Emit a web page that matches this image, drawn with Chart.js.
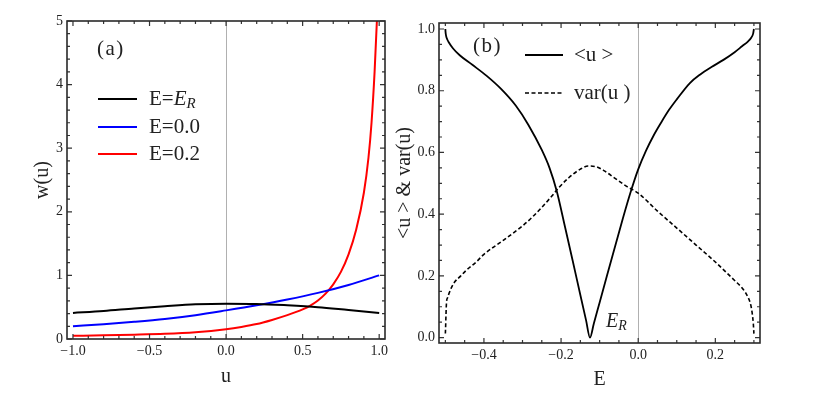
<!DOCTYPE html>
<html><head><meta charset="utf-8">
<script src="https://cdn.jsdelivr.net/npm/chart.js@4.4.1/dist/chart.umd.min.js"></script>
<style>
body{margin:0;background:#fff;}
#wrap{position:relative;width:817px;height:403px;overflow:hidden;background:#fff}
canvas{position:absolute;top:0}
</style></head><body>
<div id="wrap"><canvas id="ca" width="400" height="403" style="left:0"></canvas><canvas id="cb" width="425" height="403" style="left:392px"></canvas></div>
<script>
// ---------- Panel (a) data ----------
const uGrid = [-1, -0.8, -0.6, -0.4, -0.2, 0, 0.2, 0.4, 0.6, 0.8, 1];
const wER   = [0.41, 0.44, 0.48, 0.515, 0.545, 0.556, 0.552, 0.53, 0.50, 0.455, 0.41];
const wE00  = [0.20, 0.232, 0.27, 0.315, 0.375, 0.45, 0.53, 0.62, 0.725, 0.85, 1.0];
const uRed  = [-1, -0.8, -0.6, -0.4, -0.2, 0, 0.1, 0.2, 0.3, 0.4, 0.5, 0.55, 0.6, 0.65, 0.7, 0.75, 0.8, 0.85, 0.9, 0.93, 0.95, 0.97, 0.985, 1.0];
const wE02  = [0.05, 0.058, 0.068, 0.082, 0.108, 0.155, 0.19, 0.235, 0.30, 0.375, 0.465, 0.525, 0.605, 0.713, 0.86, 1.055, 1.33, 1.72, 2.3, 2.85, 3.4, 4.2, 5.0, 5.9];
const seriesLabelsA = ['E=E_R', 'E=0.0', 'E=0.2'];
const xMajorA = [-1, -0.5, 0, 0.5, 1];
const xMinorA = [-0.9,-0.8,-0.7,-0.6,-0.4,-0.3,-0.2,-0.1,0.1,0.2,0.3,0.4,0.6,0.7,0.8,0.9];
const yMajorA = [0, 1, 2, 3, 4, 5];
const yMinorA = [0.2,0.4,0.6,0.8,1.2,1.4,1.6,1.8,2.2,2.4,2.6,2.8,3.2,3.4,3.6,3.8,4.2,4.4,4.6,4.8];

// ---------- Panel (b) data ----------
const eU = [-0.5,-0.4995,-0.498,-0.495,-0.4913,-0.48,-0.4628,-0.43,-0.3928,-0.355,-0.3176,-0.285,-0.25,-0.23,-0.2113,-0.19,-0.17,-0.15,-0.135,-0.125,
            -0.115,-0.1,-0.08,-0.06,-0.04,-0.02,0,0.02,0.04,0.06,0.08,0.1,0.134,0.16,0.19,0.221,0.25,0.27,0.285,0.293,0.298,0.3];
const uMean = [1.0,0.99,0.977,0.966,0.957,0.937,0.915,0.884,0.848,0.805,0.752,0.69,0.608,0.55,0.475,0.36,0.25,0.138,0.055,0.0,
               0.046,0.114,0.205,0.295,0.385,0.47,0.545,0.605,0.655,0.698,0.738,0.772,0.825,0.852,0.877,0.90,0.925,0.945,0.96,0.972,0.985,1.0];
const eV = [-0.5,-0.4992,-0.4985,-0.497,-0.494,-0.49,-0.483,-0.476,-0.46,-0.446,-0.42,-0.4,-0.35,-0.3,-0.275,-0.25,-0.225,-0.205,-0.18,-0.15,-0.13,-0.11,-0.09,-0.06,-0.03,0,0.05,0.1,0.15,0.2,0.25,0.27,0.285,0.292,0.296,0.2985,0.3];
const varU = [0.013,0.04,0.07,0.115,0.13,0.145,0.165,0.18,0.2,0.218,0.245,0.27,0.315,0.362,0.39,0.422,0.457,0.487,0.518,0.546,0.556,0.554,0.542,0.516,0.49,0.468,0.41,0.355,0.30,0.245,0.185,0.16,0.13,0.105,0.075,0.045,0.013];
const seriesLabelsB = ['<u >', 'var(u )'];
const E_R = -0.125;
const xMajorB = [-0.4, -0.2, 0, 0.2];
const xMinorB = [-0.5,-0.45,-0.35,-0.3,-0.25,-0.15,-0.1,-0.05,0.05,0.1,0.15,0.25,0.3];
const yMajorB = [0, 0.2, 0.4, 0.6, 0.8, 1.0];
const yMinorB = [0.05,0.1,0.15,0.25,0.3,0.35,0.45,0.5,0.55,0.65,0.7,0.75,0.85,0.9,0.95];

const FAM = 'Liberation Serif';
const TXT = '#222';
const fmt1 = v => (v < 0 ? '\u2212' : '') + Math.abs(v).toFixed(1);
const pts = (xs, ys) => xs.map((x, i) => ({x, y: ys[i]}));

function drawRich(ctx, x, y, label, size) {
  ctx.textBaseline = 'middle';
  ctx.textAlign = 'left';
  const i = label.indexOf('_');
  if (i < 0) {
    ctx.font = size + 'px "' + FAM + '"';
    ctx.fillText(label, x, y);
    return;
  }
  const pre = label.slice(0, i - 1), base = label[i - 1], sub = label.slice(i + 1);
  ctx.font = size + 'px "' + FAM + '"';
  ctx.fillText(pre, x, y); x += ctx.measureText(pre).width;
  ctx.font = 'italic ' + size + 'px "' + FAM + '"';
  ctx.fillText(base, x, y); x += ctx.measureText(base).width;
  ctx.font = 'italic ' + Math.round(size * 0.7) + 'px "' + FAM + '"';
  ctx.fillText(sub, x, y + size * 0.22);
}

function framePlugin(cfg) {
  return {
    id: 'frame_' + cfg.name,
    beforeDatasetsDraw(chart) {
      const {ctx, chartArea: a, scales: {x}} = chart;
      const px = Math.round(x.getPixelForValue(0)) + 0.5;
      ctx.save();
      ctx.strokeStyle = '#b0b0b0'; ctx.lineWidth = 1;
      ctx.beginPath(); ctx.moveTo(px, a.top); ctx.lineTo(px, a.bottom); ctx.stroke();
      ctx.restore();
    },
    afterDatasetsDraw(chart) {
      const {ctx, chartArea: a, scales: {x, y}} = chart;
      ctx.save();
      ctx.strokeStyle = '#333'; ctx.lineWidth = 1.2;
      const tick = (vals, len) => {
        ctx.beginPath();
        vals.forEach(v => {
          const p = x.getPixelForValue(v);
          ctx.moveTo(p, a.bottom); ctx.lineTo(p, a.bottom - len);
          ctx.moveTo(p, a.top); ctx.lineTo(p, a.top + len);
        });
        ctx.stroke();
      };
      const tickY = (vals, len) => {
        ctx.beginPath();
        vals.forEach(v => {
          const p = y.getPixelForValue(v);
          ctx.moveTo(a.left, p); ctx.lineTo(a.left + len, p);
          ctx.moveTo(a.right, p); ctx.lineTo(a.right - len, p);
        });
        ctx.stroke();
      };
      tick(cfg.xMajor, 5); tick(cfg.xMinor, 3);
      tickY(cfg.yMajor, 5); tickY(cfg.yMinor, 3);
      ctx.lineWidth = 1.6; ctx.strokeStyle = '#2a2a2a';
      ctx.strokeRect(a.left, a.top, a.right - a.left, a.bottom - a.top);
      ctx.fillStyle = TXT;
      ctx.font = '21px "' + FAM + '"';
      ctx.textBaseline = 'middle'; ctx.textAlign = 'left';
      ctx.letterSpacing = '1.5px';
      ctx.fillText(cfg.tag, cfg.tagX, cfg.tagY);
      ctx.letterSpacing = '0px';
      chart.data.datasets.forEach((ds, i) => {
        const ly = cfg.legY[i];
        ctx.strokeStyle = ds.borderColor; ctx.lineWidth = ds.borderWidth;
        ctx.setLineDash(ds.borderDash || []);
        ctx.beginPath(); ctx.moveTo(cfg.legX0, ly); ctx.lineTo(cfg.legX1, ly); ctx.stroke();
        ctx.setLineDash([]);
        ctx.fillStyle = TXT;
        drawRich(ctx, cfg.legTX, ly, ds.label, 21);
      });
      if (cfg.extra) cfg.extra(chart, ctx);
      ctx.restore();
    }
  };
}

function axis(min, max, major, fmt, isX, size, title, tpad) {
  return {
    type: 'linear', min, max,
    afterBuildTicks: s => { s.ticks = major.map(v => ({value: v})); },
    ticks: {callback: fmt, padding: 4, font: {family: FAM, size: 14}, color: TXT, maxRotation: 0, autoSkip: false},
    grid: {display: false, drawTicks: false},
    border: {display: false},
    title: {display: true, text: title, font: {family: FAM, size: 20}, color: TXT, padding: tpad},
    afterFit: s => { if (isX) s.height = size; else s.width = size; }
  };
}

// ---------- Chart (a) ----------
new Chart(document.getElementById('ca'), {
  type: 'line',
  data: {datasets: [
    {label: seriesLabelsA[0], data: pts(uGrid, wER), borderColor: '#000000', borderWidth: 2, pointRadius: 0, cubicInterpolationMode: 'monotone', fill: false},
    {label: seriesLabelsA[1], data: pts(uGrid, wE00), borderColor: '#0000ff', borderWidth: 2, pointRadius: 0, cubicInterpolationMode: 'monotone', fill: false},
    {label: seriesLabelsA[2], data: pts(uRed, wE02), borderColor: '#ff0000', borderWidth: 2, pointRadius: 0, cubicInterpolationMode: 'monotone', fill: false}
  ]},
  options: {
    responsive: false, animation: false, devicePixelRatio: 1,
    layout: {padding: {left: 0, right: 15, top: 21, bottom: 0}},
    plugins: {legend: {display: false}, tooltip: {enabled: false}},
    scales: {
      x: axis(-1.039, 1.038, xMajorA, fmt1, true, 64, 'u', {top: 0, bottom: 14}),
      y: axis(0, 5, yMajorA, v => String(v), false, 67, 'w(u)', {top: 31, bottom: 0})
    }
  },
  plugins: [framePlugin({name: 'a', xMajor: xMajorA, xMinor: xMinorA, yMajor: yMajorA, yMinor: yMinorA,
    tag: '(a)', tagX: 97, tagY: 49, legX0: 98, legX1: 137, legTX: 149, legY: [99, 127, 154]})]
});

// ---------- Chart (b) ----------
new Chart(document.getElementById('cb'), {
  type: 'line',
  data: {datasets: [
    {label: seriesLabelsB[0], data: pts(eU, uMean), borderColor: '#000000', borderWidth: 1.8, pointRadius: 0, cubicInterpolationMode: 'monotone', fill: false},
    {label: seriesLabelsB[1], data: pts(eV, varU), borderColor: '#000000', borderWidth: 1.6, borderDash: [4, 2.5], pointRadius: 0, cubicInterpolationMode: 'monotone', fill: false}
  ]},
  options: {
    responsive: false, animation: false, devicePixelRatio: 1,
    layout: {padding: {left: 0, right: 57, top: 23, bottom: 0}},
    plugins: {legend: {display: false}, tooltip: {enabled: false}},
    scales: {
      x: axis(-0.5165, 0.3158, xMajorB, fmt1, true, 60, 'E', {top: 0, bottom: 11}),
      y: axis(-0.0175, 1.0195, yMajorB, fmt1, false, 47, '<u > & var(u)', {top: 1, bottom: 0})
    }
  },
  plugins: [framePlugin({name: 'b', xMajor: xMajorB, xMinor: xMinorB, yMajor: yMajorB, yMinor: yMinorB,
    tag: '(b)', tagX: 81, tagY: 46, legX0: 133, legX1: 171, legTX: 182, legY: [55, 93],
    extra: (chart, ctx) => {
      const px = chart.scales.x.getPixelForValue(E_R) + 16;
      const py = chart.scales.y.getPixelForValue(0) - 16;
      ctx.fillStyle = TXT;
      drawRich(ctx, px, py, 'E_R', 20);
    }})]
});
</script>
</body></html>
